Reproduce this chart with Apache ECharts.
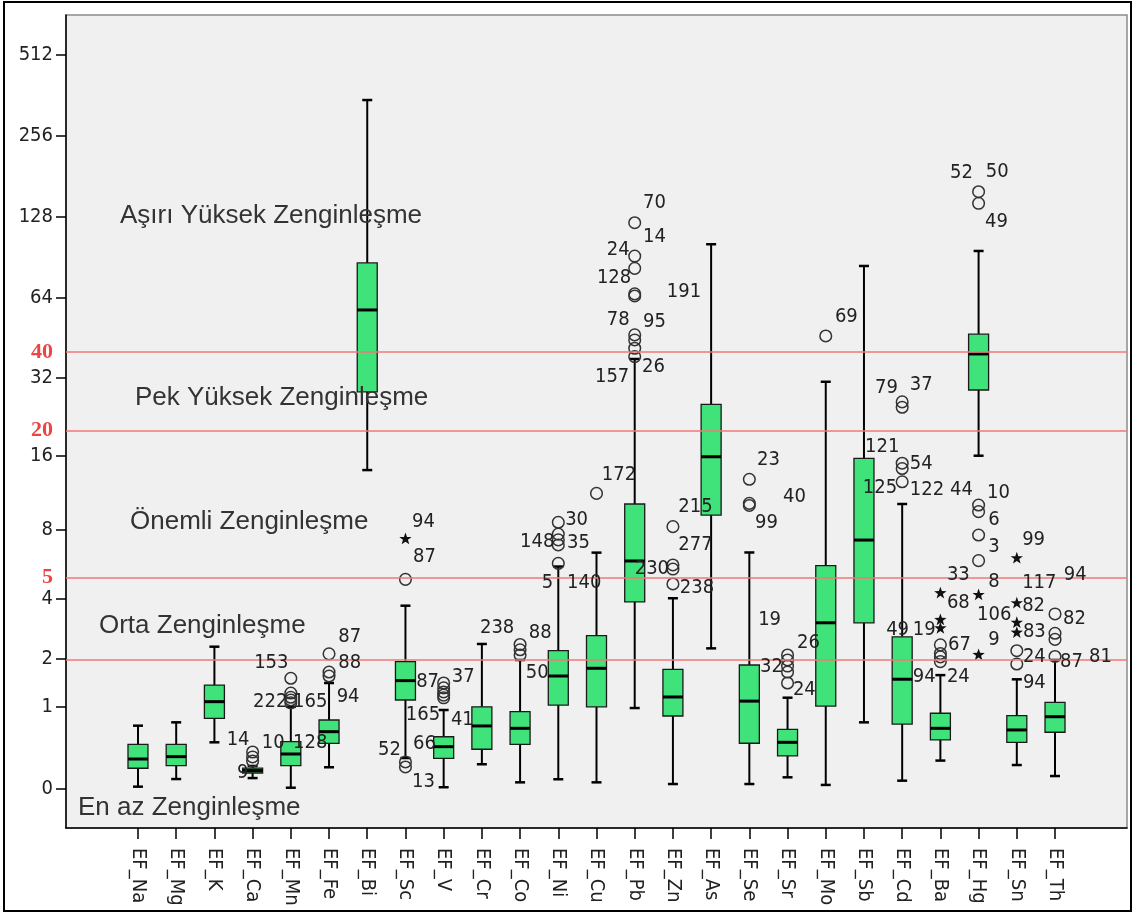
<!DOCTYPE html>
<html><head><meta charset="utf-8">
<script src="https://cdn.jsdelivr.net/npm/echarts@6/dist/echarts.min.js"></script>
<style>html,body{margin:0;padding:0;background:#fff}#c{width:1134px;height:915px}</style>
</head><body><div id="c"></div><script>
const categories = ['EF_Na','EF_Mg','EF_K','EF_Ca','EF_Mn','EF_Fe','EF_Bi','EF_Sc','EF_V','EF_Cr','EF_Co','EF_Ni','EF_Cu','EF_Pb','EF_Zn','EF_As','EF_Se','EF_Sr','EF_Mo','EF_Sb','EF_Cd','EF_Ba','EF_Hg','EF_Sn','EF_Th'];
const boxMin    = [0.014,0.082,0.479,0.091,0.005,0.196,14.0,0.294,0.009,0.227,0.052,0.08,0.052,0.98,0.037,2.29,0.037,0.098,0.029,0.753,0.067,0.266,15.95,0.219,0.11];
const boxQ1     = [0.186,0.212,0.814,0.139,0.212,0.466,28.2,1.12,0.29,0.394,0.454,1.03,1.0,3.89,0.85,9.23,0.467,0.317,1.014,3.09,0.728,0.509,28.65,0.479,0.611];
const boxMedian = [0.283,0.309,1.09,0.163,0.339,0.619,57.6,1.5,0.425,0.7,0.666,1.6,1.777,5.92,1.175,15.8,1.1,0.479,3.09,7.27,1.53,0.666,39.3,0.643,0.839];
const boxQ3     = [0.454,0.454,1.408,0.188,0.487,0.788,86.4,1.94,0.551,1.0,0.919,2.225,2.665,10.24,1.753,25.25,1.856,0.652,5.65,15.58,2.63,0.894,46.7,0.855,1.079];
const boxMax    = [0.704,0.753,2.337,0.209,1.0,1.45,348.7,3.73,0.947,2.415,1.98,5.6,6.43,37.6,4.04,101.5,6.44,1.162,30.8,84.2,10.24,1.62,95.8,1.528,1.98];
// outliers: [category, value]
const circleOutliers = [
 ['EF_Ca',0.362],['EF_Ca',0.306],['EF_Ca',0.261],
 ['EF_Mn',1.55],['EF_Mn',1.25],['EF_Mn',1.17],['EF_Mn',1.12],['EF_Mn',1.07],
 ['EF_Fe',2.14],['EF_Fe',1.69],['EF_Fe',1.6],
 ['EF_Sc',4.92],['EF_Sc',0.251],['EF_Sc',0.199],
 ['EF_V',1.45],['EF_V',1.35],['EF_V',1.27],['EF_V',1.21],['EF_V',1.16],
 ['EF_Co',2.4],['EF_Co',2.25],['EF_Co',2.11],
 ['EF_Ni',8.62],['EF_Ni',7.7],['EF_Ni',7.28],['EF_Ni',6.93],['EF_Ni',5.78],
 ['EF_Cu',11.3],
 ['EF_Pb',122.1],['EF_Pb',91.7],['EF_Pb',82.5],['EF_Pb',66.2],['EF_Pb',65.0],['EF_Pb',46.4],['EF_Pb',44.4],['EF_Pb',41.3],['EF_Pb',38.4],
 ['EF_Zn',8.27],['EF_Zn',5.69],['EF_Zn',5.46],['EF_Zn',4.69],
 ['EF_Se',12.87],['EF_Se',10.3],['EF_Se',10.1],
 ['EF_Sr',2.11],['EF_Sr',1.98],['EF_Sr',1.83],['EF_Sr',1.69],['EF_Sr',1.45],
 ['EF_Mo',45.96],
 ['EF_Cd',25.8],['EF_Cd',24.6],['EF_Cd',14.9],['EF_Cd',14.2],['EF_Cd',12.58],
 ['EF_Ba',2.39],['EF_Ba',2.15],['EF_Ba',2.06],['EF_Ba',1.94],
 ['EF_Hg',159.3],['EF_Hg',144.2],['EF_Hg',10.14],['EF_Hg',9.53],['EF_Hg',7.63],['EF_Hg',5.94],
 ['EF_Sn',2.225],['EF_Sn',1.88],
 ['EF_Th',3.41],['EF_Th',2.74],['EF_Th',2.55],['EF_Th',2.07]
];
const starOutliers = [
 ['EF_Sc',7.34],
 ['EF_Ba',4.26],['EF_Ba',3.19],['EF_Ba',2.9],
 ['EF_Hg',4.18],['EF_Hg',2.11],
 ['EF_Sn',6.08],['EF_Sn',3.83],['EF_Sn',3.09],['EF_Sn',2.76]
];
// case-number labels: [text, category position (left edge), value (vertical centre)]
const caseLabels = [
 ['14',2.32,0.508],['9',2.59,0.139],['153',3.04,1.904],['222',3.01,1.085],['165',4.06,1.085],['10',3.24,0.47],['128',4.06,0.47],
 ['87',5.24,2.633],['88',5.24,1.904],['94',5.2,1.181],
 ['94',7.17,8.64],['87',7.2,6.16],['87',7.28,1.478],['37',8.21,1.585],['165',7.01,0.867],['41',8.19,0.79],['52',6.28,0.385],['66',7.2,0.458],['13',7.17,0.055],
 ['238',8.95,2.91],['88',10.23,2.75],
 ['30',11.18,8.81],['148',10.0,7.13],['35',11.23,7.07],['5',10.57,4.74],['140',11.23,4.74],['50',10.15,1.667],['172',12.14,13.39],
 ['70',13.22,145],['14',13.22,108.3],['24',12.27,96.8],['128',12.01,75.9],['191',13.84,67.3],['78',12.27,52.8],['95',13.22,51.9],['26',13.19,35.05],['157',11.96,32.1],
 ['230',13.0,5.49],['215',14.14,9.98],['277',14.14,6.93],['238',14.18,4.5],
 ['23',16.2,15.34],['99',16.15,8.56],['40',16.88,10.94],['19',16.23,3.19],
 ['26',17.25,2.44],['32',16.28,1.807],['24',17.14,1.31],
 ['69',18.24,54.2],['121',19.03,17.25],['125',18.97,11.88],
 ['79',19.29,29.17],['37',20.2,29.95],['54',20.2,14.8],['122',20.2,11.66],['49',19.58,2.85],['94',20.28,1.578],
 ['44',21.25,11.66],['10',22.22,11.35],['6',22.25,8.81],['3',22.25,6.8],['8',22.25,4.79],
 ['33',21.17,5.14],['68',21.17,3.84],['19',20.28,2.85],['67',21.2,2.39],['24',21.17,1.578],['106',21.96,3.38],['9',22.25,2.53],
 ['52',21.25,187.3],['50',22.19,189],['49',22.17,123],
 ['99',23.14,7.27],['117',23.14,4.74],['82',23.14,3.72],['83',23.16,2.78],['24',23.16,2.057],['94',23.16,1.45],
 ['94',24.23,5.14],['82',24.21,3.23],['87',24.13,1.93],['81',24.89,2.057]
];
const zoneLabels = [
 ['Aşırı Yüksek Zenginleşme',-0.471,129.4],
 ['Pek Yüksek Zenginleşme',-0.079,26.7],
 ['Önemli Zenginleşme',-0.209,8.64],
 ['Orta Zenginleşme',-1.021,2.99],
 ['En az Zenginleşme',-1.57,-0.154]
];
const yTicks = [0,1,2,4,8,16,32,64,128,256,512];
const thresholdLines = [40,20,5,2];
const thresholdTickLabels = [40,20,5];

const T = v => Math.log2(v + 1);
const inv = t => Math.round(Math.pow(2, t) - 1);
const catIdx = c => categories.indexOf(c);
const numFont = '"Liberation Sans Narrow","Arial Narrow","DejaVu Sans Condensed",sans-serif';
const Y_MIN = -0.4874, Y_MAX = 9.494, X_MIN = -1.884, X_MAX = 25.884;

const boxData = categories.map((c,i)=>[i, T(boxMin[i]), T(boxQ1[i]), T(boxMedian[i]), T(boxQ3[i]), T(boxMax[i])]);

const chart = echarts.init(document.getElementById('c'), null, {renderer:'canvas'});
chart.setOption({
  animation:false,
  backgroundColor:'#fff',
  graphic:[{type:'rect', shape:{x:4,y:2,width:1127,height:909}, style:{fill:'none', stroke:'#000', lineWidth:2}, z:100}],
  grid:{left:66,right:7,top:15,bottom:87,show:true,backgroundColor:'#f0f0f0',borderColor:'#8a8a8a',borderWidth:1.5},
  xAxis:{type:'value',min:X_MIN,max:X_MAX,
    axisLine:{show:true,onZero:false,lineStyle:{color:'#000',width:1.5}},
    axisTick:{show:true,customValues:categories.map((c,i)=>i),length:11,lineStyle:{color:'#000',width:1.5}},
    axisLabel:{customValues:categories.map((c,i)=>i),rotate:-90,margin:20,formatter:v=>categories[Math.round(v)]||'',
      fontFamily:numFont,fontSize:20,color:'#222'},
    splitLine:{show:false}},
  yAxis:[{type:'value',min:Y_MIN,max:Y_MAX,
    axisLine:{show:true,onZero:false,lineStyle:{color:'#000',width:1.5}},
    axisTick:{show:true,customValues:yTicks.map(T),length:10,lineStyle:{color:'#000',width:1.5}},
    axisLabel:{customValues:yTicks.map(T),margin:13,formatter:v=>String(inv(v)),fontFamily:numFont,fontSize:20,color:'#222'},
    splitLine:{show:false}},
   {type:'value',min:Y_MIN,max:Y_MAX,position:'left',offset:0,
    axisLine:{show:false},axisTick:{show:false},splitLine:{show:false},
    axisLabel:{customValues:thresholdTickLabels.map(T),margin:13,formatter:v=>String(inv(v)),
      fontFamily:'"Liberation Serif","DejaVu Serif",serif',fontWeight:'bold',fontSize:22,color:'#ee4444'}}],
  series:[
   {type:'custom',name:'box',data:boxData,z:3,
    markLine:{silent:true,symbol:'none',label:{show:false},lineStyle:{color:'#f07878',width:1.6,type:'solid'},
      data:thresholdLines.map(v=>({yAxis:T(v)}))},
    renderItem:(params,api)=>{
      const x=api.value(0);
      const pMin=api.coord([x,api.value(1)]), pQ1=api.coord([x,api.value(2)]), pMed=api.coord([x,api.value(3)]),
            pQ3=api.coord([x,api.value(4)]), pMax=api.coord([x,api.value(5)]);
      const cx=pMin[0], hb=10, hc=5;
      const ls={stroke:'#000',lineWidth:2};
      return {type:'group',children:[
        {type:'line',shape:{x1:cx,y1:pQ3[1],x2:cx,y2:pMax[1]},style:ls},
        {type:'line',shape:{x1:cx-hc,y1:pMax[1],x2:cx+hc,y2:pMax[1]},style:{stroke:'#000',lineWidth:2.5}},
        {type:'line',shape:{x1:cx,y1:pQ1[1],x2:cx,y2:pMin[1]},style:ls},
        {type:'line',shape:{x1:cx-hc,y1:pMin[1],x2:cx+hc,y2:pMin[1]},style:{stroke:'#000',lineWidth:2.5}},
        {type:'rect',shape:{x:cx-hb,y:pQ3[1],width:2*hb,height:pQ1[1]-pQ3[1]},style:{fill:'#40e27a',stroke:'#1a1a1a',lineWidth:1.3}},
        {type:'line',shape:{x1:cx-hb,y1:pMed[1],x2:cx+hb,y2:pMed[1]},style:{stroke:'#000',lineWidth:3}}
      ]};
    }},
   {type:'custom',name:'circles',z:4,data:circleOutliers.map(o=>[catIdx(o[0]),T(o[1])]),
    renderItem:(params,api)=>{const p=api.coord([api.value(0),api.value(1)]);
      return {type:'circle',shape:{cx:p[0],cy:p[1],r:5.8},style:{fill:'none',stroke:'#333',lineWidth:1.5}};}},
   {type:'custom',name:'stars',z:4,data:starOutliers.map(o=>[catIdx(o[0]),T(o[1])]),
    renderItem:(params,api)=>{const p=api.coord([api.value(0),api.value(1)]);
      const pts=[];for(let k=0;k<10;k++){const r=k%2?2.6:6.5;const a=-Math.PI/2+k*Math.PI/5;pts.push([p[0]+r*Math.cos(a),p[1]+r*Math.sin(a)]);}
      return {type:'polygon',shape:{points:pts},style:{fill:'#111'}};}},
   {type:'custom',name:'caseLabels',z:5,data:caseLabels.map(l=>[l[1],T(l[2])]),
    renderItem:(params,api)=>{const p=api.coord([api.value(0),api.value(1)]);
      return {type:'text',x:p[0],y:p[1],style:{text:caseLabels[params.dataIndex][0],font:'20px '+numFont,fill:'#222',textAlign:'left',textVerticalAlign:'middle'}};}},
   {type:'custom',name:'zones',z:5,data:zoneLabels.map(l=>[l[1],T(l[2])]),
    renderItem:(params,api)=>{const p=api.coord([api.value(0),api.value(1)]);
      return {type:'text',x:p[0],y:p[1],style:{text:zoneLabels[params.dataIndex][0],font:'26px "Liberation Sans",Arial,sans-serif',fill:'#333',textAlign:'left',textVerticalAlign:'middle'}};}}
  ]
});
</script></body></html>
